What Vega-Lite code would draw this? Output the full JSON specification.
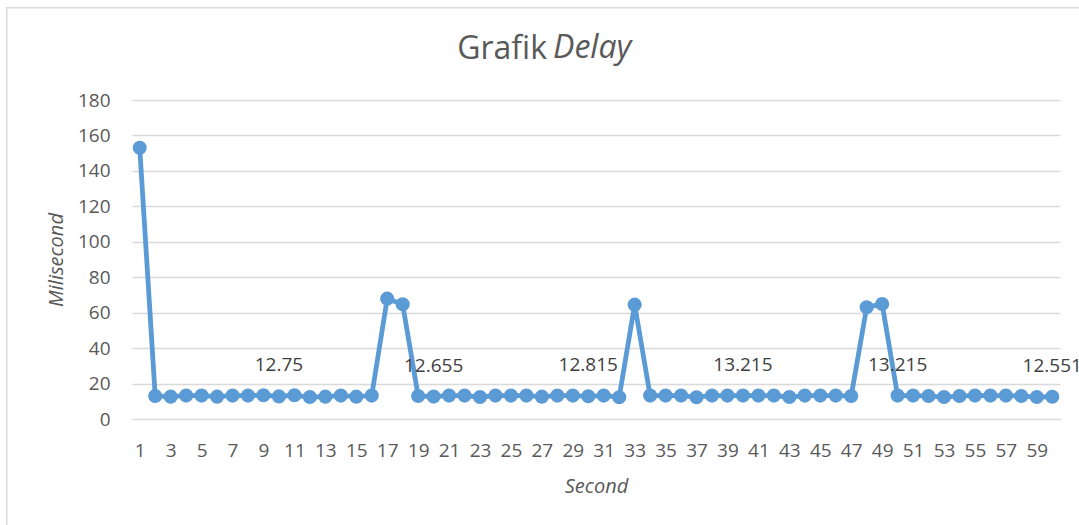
{
  "$schema": "https://vega.github.io/schema/vega-lite/v6.json",
  "autosize": "none",
  "width": 928,
  "height": 319,
  "padding": {"left": 132, "top": 100, "right": 19, "bottom": 106},
  "background": "white",
  "config": {
    "view": {"stroke": null},
    "font": "Open Sans",
    "axis": {"labelFont": "Open Sans", "titleFont": "Open Sans", "labelColor": "#595959", "titleColor": "#595959", "labelFontSize": 19, "titleFontSize": 20, "titleFontWeight": "normal", "titleFontStyle": "italic", "ticks": false}
  },
  "title": {"text": "Grafik", "anchor": "middle", "align": "right", "dx": -49, "baseline": "middle", "offset": -74, "fontSize": 32, "font": "Open Sans", "fontWeight": "normal", "color": "#595959"},
  "data": {"values": [
    {"s": 1, "ms": 153, "label": null},
    {"s": 2, "ms": 13.0, "label": null},
    {"s": 3, "ms": 12.6, "label": null},
    {"s": 4, "ms": 13.2, "label": null},
    {"s": 5, "ms": 13.2, "label": null},
    {"s": 6, "ms": 12.6, "label": null},
    {"s": 7, "ms": 13.2, "label": null},
    {"s": 8, "ms": 13.2, "label": null},
    {"s": 9, "ms": 13.4, "label": null},
    {"s": 10, "ms": 12.75, "label": "12.75"},
    {"s": 11, "ms": 13.4, "label": null},
    {"s": 12, "ms": 12.4, "label": null},
    {"s": 13, "ms": 12.6, "label": null},
    {"s": 14, "ms": 13.2, "label": null},
    {"s": 15, "ms": 12.6, "label": null},
    {"s": 16, "ms": 13.2, "label": null},
    {"s": 17, "ms": 67.9, "label": null},
    {"s": 18, "ms": 64.7, "label": null},
    {"s": 19, "ms": 13.0, "label": null},
    {"s": 20, "ms": 12.655, "label": "12.655"},
    {"s": 21, "ms": 13.2, "label": null},
    {"s": 22, "ms": 13.2, "label": null},
    {"s": 23, "ms": 12.4, "label": null},
    {"s": 24, "ms": 13.2, "label": null},
    {"s": 25, "ms": 13.2, "label": null},
    {"s": 26, "ms": 13.2, "label": null},
    {"s": 27, "ms": 12.6, "label": null},
    {"s": 28, "ms": 13.2, "label": null},
    {"s": 29, "ms": 13.2, "label": null},
    {"s": 30, "ms": 12.815, "label": "12.815"},
    {"s": 31, "ms": 13.2, "label": null},
    {"s": 32, "ms": 12.3, "label": null},
    {"s": 33, "ms": 64.5, "label": null},
    {"s": 34, "ms": 13.2, "label": null},
    {"s": 35, "ms": 13.2, "label": null},
    {"s": 36, "ms": 13.2, "label": null},
    {"s": 37, "ms": 12.3, "label": null},
    {"s": 38, "ms": 13.2, "label": null},
    {"s": 39, "ms": 13.2, "label": null},
    {"s": 40, "ms": 13.215, "label": "13.215"},
    {"s": 41, "ms": 13.2, "label": null},
    {"s": 42, "ms": 13.2, "label": null},
    {"s": 43, "ms": 12.4, "label": null},
    {"s": 44, "ms": 13.2, "label": null},
    {"s": 45, "ms": 13.2, "label": null},
    {"s": 46, "ms": 13.2, "label": null},
    {"s": 47, "ms": 13.0, "label": null},
    {"s": 48, "ms": 63.0, "label": null},
    {"s": 49, "ms": 64.9, "label": null},
    {"s": 50, "ms": 13.215, "label": "13.215"},
    {"s": 51, "ms": 13.2, "label": null},
    {"s": 52, "ms": 13.0, "label": null},
    {"s": 53, "ms": 12.4, "label": null},
    {"s": 54, "ms": 13.0, "label": null},
    {"s": 55, "ms": 13.2, "label": null},
    {"s": 56, "ms": 13.2, "label": null},
    {"s": 57, "ms": 13.2, "label": null},
    {"s": 58, "ms": 13.0, "label": null},
    {"s": 59, "ms": 12.4, "label": null},
    {"s": 60, "ms": 12.551, "label": "12.551"}
  ]},
  "encoding": {
    "x": {"field": "s", "type": "quantitative", "scale": {"domain": [0.5, 60.5], "nice": false, "zero": false},
      "axis": {"title": "Second", "values": [1,3,5,7,9,11,13,15,17,19,21,23,25,27,29,31,33,35,37,39,41,43,45,47,49,51,53,55,57,59], "grid": false, "domainColor": "#d9d9d9", "domainWidth": 1, "labelPadding": 22, "titlePadding": 16, "labelFlush": false, "labelOverlap": false}},
    "y": {"field": "ms", "type": "quantitative", "scale": {"domain": [0, 180], "nice": false},
      "axis": {"title": "Milisecond", "values": [0,20,40,60,80,100,120,140,160,180], "grid": true, "gridColor": "#d9d9d9", "gridWidth": 1.3, "domain": false, "labelPadding": 22, "titlePadding": 11}}
  },
  "layer": [
    {"mark": {"type": "line", "color": "#5B9BD5", "strokeWidth": 4.8, "clip": false}},
    {"mark": {"type": "point", "filled": true, "opacity": 1, "color": "#5B9BD5", "size": 200, "shape": "circle", "clip": false}},
    {"transform": [{"filter": "datum.label != null"}],
     "mark": {"type": "text", "font": "Open Sans", "fontSize": 19, "color": "#404040", "baseline": "middle", "align": "center", "dy": -31},
     "encoding": {"text": {"field": "label"}}},
    {"data": {"values": [{"word": "Delay", "wx": 27.72, "wy": 209.3}]},
     "mark": {"type": "text", "font": "Open Sans", "fontSize": 32, "fontStyle": "italic", "color": "#595959", "align": "left", "baseline": "middle", "clip": false},
     "encoding": {"x": {"field": "wx", "type": "quantitative"}, "y": {"field": "wy", "type": "quantitative"}, "text": {"field": "word"}}},
    {"data": {"values": [{"bx": -7.6, "bx2": 80, "by": 232, "by2": -100}]},
     "mark": {"type": "rect", "fill": null, "stroke": "#d9d9d9", "strokeWidth": 1.5, "clip": false},
     "encoding": {"x": {"field": "bx", "type": "quantitative"}, "x2": {"field": "bx2"}, "y": {"field": "by", "type": "quantitative"}, "y2": {"field": "by2"}}}
  ]
}
